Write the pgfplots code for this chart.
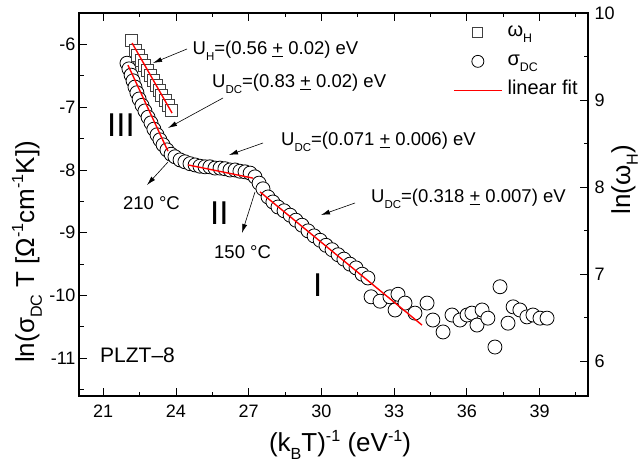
\documentclass[border=0pt]{standalone}
\usepackage{fontspec}
\setmainfont{Liberation Sans}
\usepackage{graphicx}
\usepackage{pgfplots}
\pgfplotsset{compat=1.18}
\usetikzlibrary{arrows.meta}
\newcommand{\fs}[1]{\fontsize{#1}{#1}\selectfont}
\newcommand{\upm}{\underline{+}}
\newcommand{\sub}[1]{\raisebox{-0.3em}{\scalebox{0.62}{#1}}}
\newcommand{\sups}[1]{\raisebox{0.42em}{\scalebox{0.62}{#1}}}
\begin{document}
\begin{tikzpicture}
\useasboundingbox (-79pt,-69pt) rectangle (565pt,396pt);
\begin{axis}[
  at={(0pt,0pt)}, anchor=south west,
  scale only axis, width=509pt, height=383pt,
  clip marker paths=true,
  xmin=20, xmax=41, ymin=-11.6, ymax=-5.5,
  xtick={21,24,27,30,33,36,39},
  minor xtick={22.5,25.5,28.5,31.5,34.5,37.5,40.5},
  ytick={-11,-10,-9,-8,-7,-6},
  minor ytick={-11.5,-10.5,-9.5,-8.5,-7.5,-6.5},
  xtick pos=both, xticklabel pos=lower, ytick pos=left,
  tick align=inside,
  major tick length=8pt, minor tick length=4.5pt,
  tick style={black, line width=0.9pt},
  axis line style={line width=1.2pt},
  tick label style={font=\fs{18}},
  /pgf/number format/assume math mode=true,
  xticklabel style={yshift=-5pt},
  xlabel={(k\sub{B}T)\sups{-1} (eV\sups{-1})},
  xlabel style={font=\fs{26}, at={(axis description cs:0.5128,-0.1462)}, anchor=base},
  legend style={draw=none, fill=none, font=\fs{20}, at={(axis description cs:0.7347,0.980)}, anchor=north west, inner sep=0pt, row sep=6pt, column sep=3pt, nodes={inner sep=2pt, text height=14pt, text depth=5pt}},
  legend cell align=left,
  legend image code/.code={\draw[mark repeat=2,mark phase=2,#1] plot coordinates {(0pt,0pt) (24pt,0pt) (48pt,0pt)};},
]
\addlegendimage{only marks, mark=square*, mark size=5pt, mark options={fill=white, draw=black!75, line width=0.8pt}}
\addlegendentry{ω\sub{H}}
\addlegendimage{only marks, mark=*, mark size=6pt, mark options={fill=white, draw=black, line width=0.8pt}}
\addlegendentry{σ\sub{DC}}
\addlegendimage{red, line width=1.4pt}
\addlegendentry{linear fit}

\addplot[forget plot, only marks, mark=*, mark size=7pt, mark options={fill=white, draw=black, line width=0.8pt}] coordinates {
(21.98,-6.30) (22.06,-6.39) (22.15,-6.49) (22.23,-6.58) (22.31,-6.68) (22.39,-6.77)
(22.48,-6.87) (22.60,-6.97) (22.72,-7.06) (22.85,-7.16) (22.97,-7.25) (23.09,-7.35)
(23.22,-7.44) (23.34,-7.52) (23.47,-7.60) (23.63,-7.68) (23.80,-7.75) (23.96,-7.79)
(24.17,-7.84) (24.37,-7.87) (24.58,-7.90) (24.79,-7.92) (24.99,-7.94) (25.20,-7.95)
(25.40,-7.95) (25.61,-7.97) (25.82,-7.97) (26.02,-7.98) (26.23,-8.00) (26.44,-8.00)
(26.64,-8.02) (26.85,-8.03) (27.06,-8.05) (27.26,-8.11) (27.43,-8.21) (27.59,-8.30)
(27.80,-8.43) (28.00,-8.51) (28.21,-8.59) (28.46,-8.65) (28.71,-8.72) (28.95,-8.80)
(29.20,-8.88) (29.45,-8.97) (29.70,-9.05) (29.95,-9.12) (30.19,-9.20) (30.44,-9.27)
(30.69,-9.35) (30.93,-9.42) (31.18,-9.50) (31.43,-9.56) (31.68,-9.66) (31.92,-9.72)
(32.05,-10.02) (32.42,-10.09) (32.83,-10.02) (33.16,-9.98) (33.04,-10.23) (33.45,-10.12)
(33.86,-10.28) (34.36,-10.12) (34.60,-10.39) (35.02,-10.58) (35.39,-10.31) (35.72,-10.39)
(36.01,-10.31) (36.21,-10.28) (36.42,-10.47) (36.63,-10.23) (36.87,-10.36) (37.16,-10.82)
(37.37,-9.86) (37.70,-10.44) (37.91,-10.18) (38.19,-10.23) (38.48,-10.34) (38.73,-10.31)
(39.02,-10.36) (39.31,-10.36)
};
\addplot[forget plot, red, line width=1.4pt] coordinates {(22.02,-6.33) (23.67,-7.70)};
\addplot[forget plot, red, line width=1.4pt] coordinates {(24.50,-7.92) (27.18,-8.13)};
\addplot[forget plot, red, line width=1.4pt] coordinates {(27.47,-8.35) (34.15,-10.47)};
\end{axis}
\begin{axis}[
  at={(0pt,0pt)}, anchor=south west,
  scale only axis, width=509pt, height=383pt,
  clip marker paths=true,
  xmin=20, xmax=41, ymin=5.6, ymax=10,
  axis x line=none, axis y line*=right, tick align=inside,
  ytick={6,7,8,9,10}, minor ytick={6.5,7.5,8.5,9.5},
  major tick length=8pt, minor tick length=4.5pt,
  tick style={black, line width=0.9pt},
  axis line style={line width=1.2pt},
  tick label style={font=\fs{18}},
  /pgf/number format/assume math mode=true,
  yticklabel style={xshift=3pt},
]
\addplot[only marks, mark=square*, mark size=6pt, mark options={fill=white, draw=black!75, line width=0.8pt}] coordinates {
(22.15,9.69) (22.31,9.575) (22.43,9.517) (22.56,9.46) (22.68,9.40) (22.81,9.345)
(22.93,9.288) (23.05,9.23) (23.18,9.173) (23.30,9.115) (23.42,9.058) (23.55,9.00)
(23.67,8.943) (23.80,8.886)
};
\addplot[red, line width=1.4pt] coordinates {(22.19,9.655) (23.84,8.85)};
\end{axis}
\begin{scope}[x=1pt, y=-1pt, shift={(-79pt,396pt)}]
\node[rotate=90, anchor=base, inner sep=0pt, font=\fs{26}] at (34,252) {ln(σ\sub{DC} T [Ω\sups{-1}cm\sups{-1}K])};
\node[rotate=90, anchor=base, inner sep=0pt, font=\fs{26}] at (630,180) {ln(ω\sub{H})};
\node[anchor=base west, inner sep=0pt, font=\fs{18.5}] at (192.5,55) {U\sub{H}=(0.56 \upm\ 0.02) eV};
\node[anchor=base west, inner sep=0pt, font=\fs{18.5}] at (212,88) {U\sub{DC}=(0.83 \upm\ 0.02) eV};
\node[anchor=base west, inner sep=0pt, font=\fs{18.5}] at (281,146) {U\sub{DC}=(0.071 \upm\ 0.006) eV};
\node[anchor=base west, inner sep=0pt, font=\fs{18.5}] at (371,203) {U\sub{DC}=(0.318 \upm\ 0.007) eV};
\node[anchor=base east, inner sep=0pt, font=\fs{18.5}] at (180,210) {210 °C};
\node[anchor=base west, inner sep=0pt, font=\fs{18.5}] at (214,259) {150 °C};
\node[anchor=base west, inner sep=0pt, font=\fs{33}] at (107,137) {III};
\node[anchor=base west, inner sep=0pt, font=\fs{33}] at (210,225) {II};
\node[anchor=base west, inner sep=0pt, font=\fs{33}] at (313,297) {I};
\node[anchor=base west, inner sep=0pt, font=\fs{21}] at (100,363) {PLZT–8};
\begin{scope}[line width=0.6pt, -{Latex[length=9pt,width=5pt]}]
\draw (187,49) -- (153,63);
\draw (223,98) -- (168,128);
\draw (263,143) -- (229,155);
\draw (355,203) -- (321,215);
\draw (168,162) -- (147,185);
\draw (255,192) -- (242,233);
\end{scope}
\end{scope}
\end{tikzpicture}
\end{document}
